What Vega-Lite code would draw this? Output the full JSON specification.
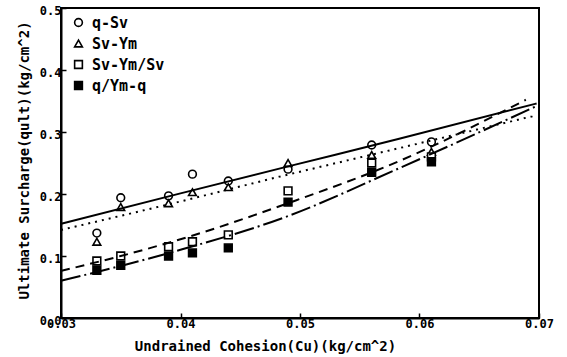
{
  "$schema": "https://vega.github.io/schema/vega-lite/v6.json",
  "width": 478,
  "height": 310,
  "autosize": "none",
  "padding": {"left": 61, "top": 8, "right": 28, "bottom": 39},
  "background": "white",
  "config": {
    "view": {"stroke": "black", "strokeWidth": 2},
    "font": "DejaVu Sans Mono",
    "axis": {
      "grid": false,
      "domainColor": "black",
      "domainWidth": 2,
      "tickColor": "black",
      "tickWidth": 1.5,
      "labelColor": "black",
      "titleColor": "black",
      "labelFont": "DejaVu Sans Mono",
      "titleFont": "DejaVu Sans Mono",
      "labelFontWeight": "bold",
      "titleFontWeight": "bold",
      "labelFontSize": 12,
      "titleFontSize": 14
    }
  },
  "datasets": {
    "points": [
      {"cu": 0.033, "q": 0.137, "s": "q-Sv"},
      {"cu": 0.035, "q": 0.194, "s": "q-Sv"},
      {"cu": 0.039, "q": 0.197, "s": "q-Sv"},
      {"cu": 0.041, "q": 0.232, "s": "q-Sv"},
      {"cu": 0.044, "q": 0.221, "s": "q-Sv"},
      {"cu": 0.049, "q": 0.240, "s": "q-Sv"},
      {"cu": 0.056, "q": 0.279, "s": "q-Sv"},
      {"cu": 0.061, "q": 0.284, "s": "q-Sv"},
      {"cu": 0.033, "q": 0.123, "s": "Sv-Ym"},
      {"cu": 0.035, "q": 0.179, "s": "Sv-Ym"},
      {"cu": 0.039, "q": 0.185, "s": "Sv-Ym"},
      {"cu": 0.041, "q": 0.203, "s": "Sv-Ym"},
      {"cu": 0.044, "q": 0.211, "s": "Sv-Ym"},
      {"cu": 0.049, "q": 0.250, "s": "Sv-Ym"},
      {"cu": 0.056, "q": 0.263, "s": "Sv-Ym"},
      {"cu": 0.061, "q": 0.268, "s": "Sv-Ym"},
      {"cu": 0.033, "q": 0.092, "s": "Sv-Ym/Sv"},
      {"cu": 0.035, "q": 0.100, "s": "Sv-Ym/Sv"},
      {"cu": 0.039, "q": 0.115, "s": "Sv-Ym/Sv"},
      {"cu": 0.041, "q": 0.123, "s": "Sv-Ym/Sv"},
      {"cu": 0.044, "q": 0.134, "s": "Sv-Ym/Sv"},
      {"cu": 0.049, "q": 0.205, "s": "Sv-Ym/Sv"},
      {"cu": 0.056, "q": 0.250, "s": "Sv-Ym/Sv"},
      {"cu": 0.061, "q": 0.260, "s": "Sv-Ym/Sv"},
      {"cu": 0.033, "q": 0.077, "s": "q/Ym-q"},
      {"cu": 0.035, "q": 0.085, "s": "q/Ym-q"},
      {"cu": 0.039, "q": 0.100, "s": "q/Ym-q"},
      {"cu": 0.041, "q": 0.105, "s": "q/Ym-q"},
      {"cu": 0.044, "q": 0.113, "s": "q/Ym-q"},
      {"cu": 0.049, "q": 0.187, "s": "q/Ym-q"},
      {"cu": 0.056, "q": 0.235, "s": "q/Ym-q"},
      {"cu": 0.061, "q": 0.252, "s": "q/Ym-q"}
    ],
    "fits": [
      {"cu": 0.030, "q": 0.152, "fit": "q-Sv"},
      {"cu": 0.040, "q": 0.201, "fit": "q-Sv"},
      {"cu": 0.0491, "q": 0.245, "fit": "q-Sv"},
      {"cu": 0.0583, "q": 0.289, "fit": "q-Sv"},
      {"cu": 0.0698, "q": 0.346, "fit": "q-Sv"},
      {"cu": 0.030, "q": 0.142, "fit": "Sv-Ym"},
      {"cu": 0.040, "q": 0.188, "fit": "Sv-Ym"},
      {"cu": 0.0483, "q": 0.228, "fit": "Sv-Ym"},
      {"cu": 0.0583, "q": 0.274, "fit": "Sv-Ym"},
      {"cu": 0.0698, "q": 0.327, "fit": "Sv-Ym"},
      {"cu": 0.030, "q": 0.076, "fit": "Sv-Ym/Sv"},
      {"cu": 0.035, "q": 0.100, "fit": "Sv-Ym/Sv"},
      {"cu": 0.040, "q": 0.127, "fit": "Sv-Ym/Sv"},
      {"cu": 0.0497, "q": 0.190, "fit": "Sv-Ym/Sv"},
      {"cu": 0.0578, "q": 0.249, "fit": "Sv-Ym/Sv"},
      {"cu": 0.0689, "q": 0.352, "fit": "Sv-Ym/Sv"},
      {"cu": 0.030, "q": 0.060, "fit": "q/Ym-q"},
      {"cu": 0.035, "q": 0.084, "fit": "q/Ym-q"},
      {"cu": 0.040, "q": 0.110, "fit": "q/Ym-q"},
      {"cu": 0.0488, "q": 0.163, "fit": "q/Ym-q"},
      {"cu": 0.0580, "q": 0.239, "fit": "q/Ym-q"},
      {"cu": 0.0697, "q": 0.341, "fit": "q/Ym-q"}
    ]
  },
  "layer": [
    {
      "data": {"name": "points"},
      "mark": {"type": "point", "strokeWidth": 1.6, "filled": false, "fillOpacity": 1, "strokeOpacity": 1},
      "encoding": {
        "x": {
          "field": "cu",
          "type": "quantitative",
          "scale": {"domain": [0.03, 0.07], "nice": false, "zero": false},
          "axis": {
            "values": [0.03, 0.04, 0.05, 0.06, 0.07],
            "format": ".2f",
            "tickSize": -5,
            "labelPadding": 5,
            "labelFlush": false,
            "title": "Undrained Cohesion(Cu)(kg/cm^2)",
            "titleX": 204,
            "titleY": 28,
            "titleAlign": "center",
            "titleBaseline": "middle"
          }
        },
        "y": {
          "field": "q",
          "type": "quantitative",
          "scale": {"domain": [0, 0.5], "nice": false},
          "axis": {
            "values": [0, 0.1, 0.2, 0.3, 0.4, 0.5],
            "format": ".1f",
            "tickSize": -5,
            "labelPadding": 5,
            "labelOffset": 2,
            "labelFlush": false,
            "title": "Ultimate Surcharge(qult)(kg/cm^2)",
            "titleX": -37,
            "titleY": 152,
            "titleAngle": 270,
            "titleAlign": "center",
            "titleBaseline": "middle"
          }
        },
        "shape": {
          "field": "s",
          "type": "nominal",
          "title": null,
          "scale": {
            "domain": ["q-Sv", "Sv-Ym", "Sv-Ym/Sv", "q/Ym-q"],
            "range": ["circle", "triangle-up", "square", "square"]
          },
          "legend": {
            "orient": "none",
            "legendX": 10,
            "legendY": 7,
            "padding": 0,
            "labelFont": "DejaVu Sans Mono",
            "labelFontWeight": "bold",
            "labelColor": "black",
            "labelFontSize": 15,
            "rowPadding": 5,
            "labelOffset": 6,
            "symbolSize": 60,
            "symbolOpacity": 1,
            "symbolStrokeWidth": 1.6
          }
        },
        "fill": {
          "field": "s",
          "type": "nominal",
          "scale": {
            "domain": ["q-Sv", "Sv-Ym", "Sv-Ym/Sv", "q/Ym-q"],
            "range": ["white", "white", "white", "black"]
          },
          "legend": null
        },
        "stroke": {
          "field": "s",
          "type": "nominal",
          "scale": {
            "domain": ["q-Sv", "Sv-Ym", "Sv-Ym/Sv", "q/Ym-q"],
            "range": ["black", "black", "black", "black"]
          },
          "legend": null
        },
        "size": {"value": 60}
      }
    },
    {
      "data": {"name": "fits"},
      "transform": [{"filter": "datum.fit === 'q-Sv'"}],
      "mark": {"type": "line", "color": "black", "strokeWidth": 2, "interpolate": "monotone", "clip": true},
      "encoding": {
        "x": {"field": "cu", "type": "quantitative"},
        "y": {"field": "q", "type": "quantitative"}
      }
    },
    {
      "data": {"name": "fits"},
      "transform": [{"filter": "datum.fit === 'Sv-Ym'"}],
      "mark": {"type": "line", "color": "black", "strokeWidth": 2, "strokeDash": [2, 5], "interpolate": "monotone", "clip": true},
      "encoding": {
        "x": {"field": "cu", "type": "quantitative"},
        "y": {"field": "q", "type": "quantitative"}
      }
    },
    {
      "data": {"name": "fits"},
      "transform": [{"filter": "datum.fit === 'Sv-Ym/Sv'"}],
      "mark": {"type": "line", "color": "black", "strokeWidth": 2, "strokeDash": [9, 6], "interpolate": "monotone", "clip": true},
      "encoding": {
        "x": {"field": "cu", "type": "quantitative"},
        "y": {"field": "q", "type": "quantitative"}
      }
    },
    {
      "data": {"name": "fits"},
      "transform": [{"filter": "datum.fit === 'q/Ym-q'"}],
      "mark": {"type": "line", "color": "black", "strokeWidth": 2, "strokeDash": [20, 4, 2, 4], "interpolate": "monotone", "clip": true},
      "encoding": {
        "x": {"field": "cu", "type": "quantitative"},
        "y": {"field": "q", "type": "quantitative"}
      }
    }
  ]
}
